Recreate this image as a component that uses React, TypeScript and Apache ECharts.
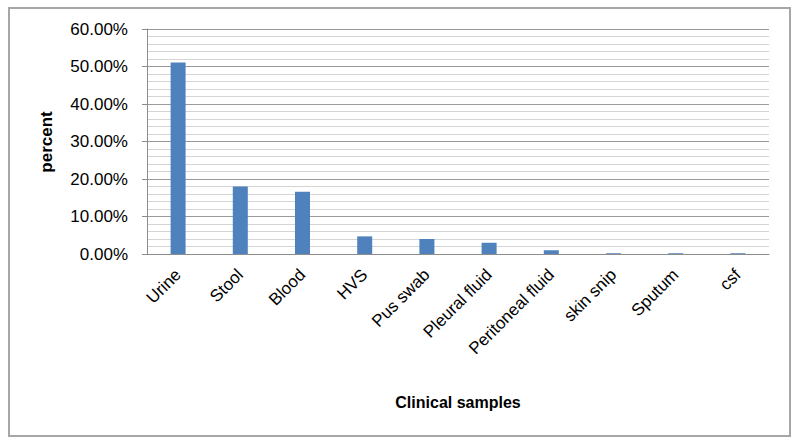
import React, { useEffect, useRef } from "react";
import * as echarts from "echarts";

const categories = ["Urine", "Stool", "Blood", "HVS", "Pus swab", "Pleural fluid", "Peritoneal fluid", "skin snip", "Sputum", "csf"];
const percentValues = [0.511, 0.18, 0.166, 0.047, 0.04, 0.03, 0.01, 0.002, 0.002, 0.002];
const yTicks = { min: 0, max: 0.6, interval: 0.1 };
const xAxisTitle = "Clinical samples";
const yAxisTitle = "percent";

export default function App() {
  const ref = useRef<HTMLDivElement>(null);
  useEffect(() => {
    if (!ref.current) return;
    const chart = echarts.init(ref.current, undefined, { renderer: "svg" });
    const font = "'Liberation Sans', Arial, sans-serif";
    chart.setOption({
      animation: false,
      backgroundColor: "#ffffff",
      textStyle: { fontFamily: font },
      grid: { left: 147, right: 31, top: 29, bottom: 192, containLabel: false },
      xAxis: {
        type: "category",
        data: categories,
        boundaryGap: true,
        axisLine: { show: true, lineStyle: { color: "#8c8c8c", width: 1 } },
        axisTick: { show: false },
        axisLabel: {
          rotate: 45,
          interval: 0,
          margin: 18,
          fontSize: 17,
          color: "#000",
          fontFamily: font,
        },
      },
      yAxis: {
        type: "value",
        min: yTicks.min,
        max: yTicks.max,
        interval: yTicks.interval,
        axisLine: { show: true, lineStyle: { color: "#8c8c8c", width: 1 } },
        axisTick: { show: true, length: 5, lineStyle: { color: "#8c8c8c" } },
        axisLabel: {
          margin: 19,
          fontSize: 17,
          color: "#000",
          fontFamily: font,
          formatter: (v: number) => (v * 100).toFixed(2) + "%",
        },
        splitLine: { show: true, lineStyle: { color: "#9a9a9a", width: 1 } },
        minorTick: { show: false, splitNumber: 5 },
        minorSplitLine: { show: true, lineStyle: { color: "#d4d4d4", width: 1 } },
      },
      series: [
        {
          type: "bar",
          data: percentValues,
          barWidth: 15,
          itemStyle: { color: "#4f81bd" },
        },
      ],
      graphic: [
        {
          type: "rect",
          shape: { x: 9, y: 8, width: 781, height: 428 },
          style: { fill: "none", stroke: "#a6a6a6", lineWidth: 2 },
          silent: true,
        },
        {
          type: "text",
          x: 46,
          y: 142,
          rotation: Math.PI / 2,
          style: {
            text: yAxisTitle,
            fontSize: 17,
            fontWeight: "bold",
            fill: "#000",
            fontFamily: font,
            textAlign: "center",
            textVerticalAlign: "middle",
          },
        },
        {
          type: "text",
          x: 458,
          y: 402,
          style: {
            text: xAxisTitle,
            fontSize: 16,
            fontWeight: "bold",
            fill: "#000",
            fontFamily: font,
            textAlign: "center",
            textVerticalAlign: "middle",
          },
        },
      ],
    });
    return () => chart.dispose();
  }, []);
  return (
    <div
      ref={ref}
      style={{ position: "fixed", left: 0, top: 0, width: 800, height: 446, background: "#fff" }}
    />
  );
}
